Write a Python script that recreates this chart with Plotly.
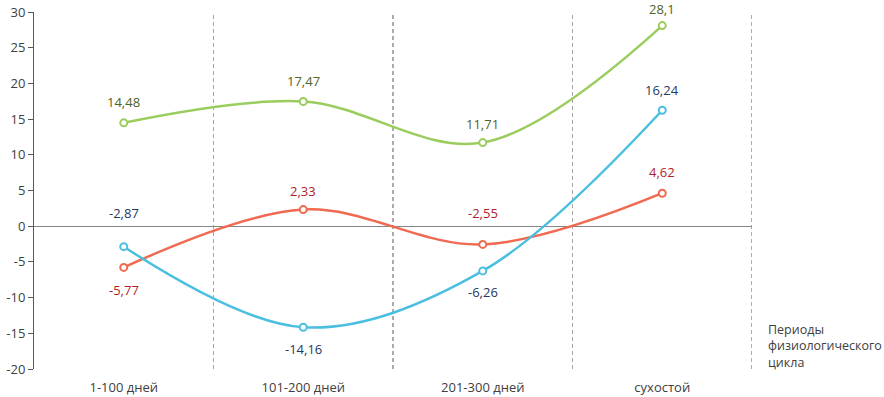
import plotly.graph_objects as go

categories = ["1-100 дней", "101-200 дней", "201-300 дней", "сухостой"]
green_vals = [14.48, 17.47, 11.71, 28.1]
red_vals = [-5.77, 2.33, -2.55, 4.62]
blue_vals = [-2.87, -14.16, -6.26, 16.24]
y_ticks = [-20, -15, -10, -5, 0, 5, 10, 15, 20, 25, 30]
axis_note = "Периоды<br>физиологического<br>цикла"

# label placement offsets (pixels; positive = above)
green_shift = [21, 20, 19, 17]
red_shift = [-23, 19, 31, 21]
blue_shift = [34, -22, -21, 20]

FONT = "Open Sans, DejaVu Sans, sans-serif"
x = list(range(len(categories)))

series = [
    (green_vals, "#9BCC5E", "#4F6228", green_shift),
    (red_vals, "#EF6A50", "#B01E2A", red_shift),
    (blue_vals, "#4BBFE0", "#1F3864", blue_shift),
]

fig = go.Figure()
annotations = []
for vals, lc, tc, shifts in series:
    fig.add_trace(go.Scatter(
        x=x, y=vals, mode="lines+markers",
        line=dict(color=lc, width=2.5, shape="spline", smoothing=1.0),
        marker=dict(symbol="circle", size=7, color="white", line=dict(color=lc, width=2)),
        hoverinfo="skip", showlegend=False,
    ))
    for xi, v, s in zip(x, vals, shifts):
        annotations.append(dict(
            x=xi, y=v, xref="x", yref="y", text=f"{v:g}".replace(".", ","),
            showarrow=False, yshift=s, font=dict(family=FONT, size=13, color=tc),
        ))

annotations.append(dict(
    x=1.0, y=-16.8, xref="paper", yref="y", xanchor="left", yanchor="middle",
    xshift=14, text=axis_note, showarrow=False, align="left",
    font=dict(family=FONT, size=12.5, color="#404040"),
))

shapes = []
sep_colors = ["#A6A6A6", "#595959", "#A6A6A6", "#595959"]
for i, c in enumerate(sep_colors):
    shapes.append(dict(type="line", xref="x", yref="y", x0=i + 0.5, x1=i + 0.5,
                       y0=-20, y1=30, line=dict(color=c, width=1, dash="4px,3px"), layer="below"))

fig.update_layout(
    width=884, height=397,
    margin=dict(l=34, r=132, t=12, b=28),
    plot_bgcolor="white", paper_bgcolor="white",
    font=dict(family=FONT, size=13, color="#404040"),
    annotations=annotations, shapes=shapes, showlegend=False,
    xaxis=dict(range=[-0.5, 3.5], tickvals=x, ticktext=categories, showgrid=False,
               zeroline=False, showline=False, ticks="outside", ticklen=6,
               tickcolor="rgba(0,0,0,0)", tickfont=dict(size=13, color="#404040"),
               automargin=False),
    yaxis=dict(range=[-20, 30], tickvals=y_ticks, ticktext=[str(t) for t in y_ticks],
               showgrid=False, zeroline=True, zerolinecolor="#868686", zerolinewidth=1,
               showline=True, linecolor="#595959", linewidth=1, ticks="outside", ticklen=5,
               tickcolor="#595959", tickfont=dict(size=13, color="#404040"),
               automargin=False),
)

fig.write_html("out.html", config={"displayModeBar": False},
               post_script="document.body.style.margin='0';document.body.style.overflow='hidden';")
